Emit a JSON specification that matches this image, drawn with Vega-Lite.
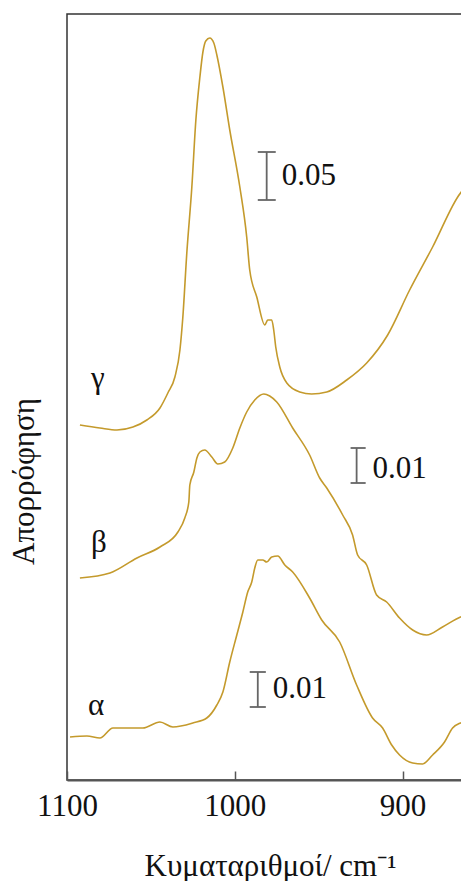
{
  "$schema": "https://vega.github.io/schema/vega-lite/v6.json",
  "width": 396,
  "height": 766,
  "autosize": {"type": "none"},
  "padding": {"left": 67, "top": 14, "right": 0, "bottom": 101},
  "background": "white",
  "config": {
    "view": {"stroke": "#333333", "strokeWidth": 1.5},
    "font": "Liberation Serif"
  },
  "datasets": {
    "spectra": [
      {"series": "γ", "wn": 1092.3, "A": 355},
      {"series": "γ", "wn": 1080.4, "A": 352},
      {"series": "γ", "wn": 1070.2, "A": 350},
      {"series": "γ", "wn": 1060.7, "A": 353},
      {"series": "γ", "wn": 1052.4, "A": 360},
      {"series": "γ", "wn": 1044.6, "A": 372},
      {"series": "γ", "wn": 1039.9, "A": 387},
      {"series": "γ", "wn": 1035.7, "A": 403},
      {"series": "γ", "wn": 1032.7, "A": 430},
      {"series": "γ", "wn": 1031.0, "A": 462},
      {"series": "γ", "wn": 1028.6, "A": 527},
      {"series": "γ", "wn": 1025.6, "A": 593},
      {"series": "γ", "wn": 1023.2, "A": 660},
      {"series": "γ", "wn": 1020.8, "A": 703},
      {"series": "γ", "wn": 1019.0, "A": 728},
      {"series": "γ", "wn": 1017.3, "A": 739},
      {"series": "γ", "wn": 1014.9, "A": 742},
      {"series": "γ", "wn": 1012.5, "A": 737},
      {"series": "γ", "wn": 1010.7, "A": 725},
      {"series": "γ", "wn": 1007.1, "A": 693},
      {"series": "γ", "wn": 1003.0, "A": 650},
      {"series": "γ", "wn": 997.0, "A": 593},
      {"series": "γ", "wn": 992.9, "A": 543},
      {"series": "γ", "wn": 991.1, "A": 510},
      {"series": "γ", "wn": 986.9, "A": 483},
      {"series": "γ", "wn": 982.1, "A": 455},
      {"series": "γ", "wn": 980.4, "A": 460},
      {"series": "γ", "wn": 978.0, "A": 460},
      {"series": "γ", "wn": 976.8, "A": 450},
      {"series": "γ", "wn": 975.6, "A": 433},
      {"series": "γ", "wn": 973.2, "A": 413},
      {"series": "γ", "wn": 969.0, "A": 397},
      {"series": "γ", "wn": 961.3, "A": 388},
      {"series": "γ", "wn": 954.2, "A": 386},
      {"series": "γ", "wn": 945.2, "A": 388},
      {"series": "γ", "wn": 933.3, "A": 400},
      {"series": "γ", "wn": 921.4, "A": 417},
      {"series": "γ", "wn": 908.9, "A": 445},
      {"series": "γ", "wn": 895.8, "A": 490},
      {"series": "γ", "wn": 882.1, "A": 533},
      {"series": "γ", "wn": 865.5, "A": 587},
      {"series": "γ", "wn": 864.0, "A": 590},
      {"series": "β", "wn": 1092.3, "A": 202},
      {"series": "β", "wn": 1074.4, "A": 207},
      {"series": "β", "wn": 1058.3, "A": 222},
      {"series": "β", "wn": 1044.6, "A": 233},
      {"series": "β", "wn": 1033.9, "A": 248},
      {"series": "β", "wn": 1029.8, "A": 262},
      {"series": "β", "wn": 1027.4, "A": 278},
      {"series": "β", "wn": 1026.8, "A": 295},
      {"series": "β", "wn": 1024.4, "A": 308},
      {"series": "β", "wn": 1022.6, "A": 322},
      {"series": "β", "wn": 1020.8, "A": 328},
      {"series": "β", "wn": 1017.9, "A": 330},
      {"series": "β", "wn": 1013.7, "A": 323},
      {"series": "β", "wn": 1010.1, "A": 316},
      {"series": "β", "wn": 1006.0, "A": 318},
      {"series": "β", "wn": 1001.2, "A": 332},
      {"series": "β", "wn": 997.0, "A": 352},
      {"series": "β", "wn": 992.9, "A": 368},
      {"series": "β", "wn": 988.1, "A": 380},
      {"series": "β", "wn": 982.7, "A": 386},
      {"series": "β", "wn": 979.2, "A": 384},
      {"series": "β", "wn": 975.0, "A": 378},
      {"series": "β", "wn": 965.5, "A": 352},
      {"series": "β", "wn": 955.4, "A": 325},
      {"series": "β", "wn": 949.4, "A": 302},
      {"series": "β", "wn": 945.2, "A": 292},
      {"series": "β", "wn": 935.7, "A": 265},
      {"series": "β", "wn": 929.8, "A": 245},
      {"series": "β", "wn": 926.8, "A": 225},
      {"series": "β", "wn": 921.4, "A": 215},
      {"series": "β", "wn": 915.5, "A": 185},
      {"series": "β", "wn": 909.5, "A": 178},
      {"series": "β", "wn": 901.8, "A": 162},
      {"series": "β", "wn": 894.0, "A": 150},
      {"series": "β", "wn": 885.7, "A": 145},
      {"series": "β", "wn": 876.2, "A": 153},
      {"series": "β", "wn": 865.5, "A": 163},
      {"series": "β", "wn": 864.0, "A": 164},
      {"series": "α", "wn": 1098.2, "A": 43},
      {"series": "α", "wn": 1088.1, "A": 44},
      {"series": "α", "wn": 1080.4, "A": 42},
      {"series": "α", "wn": 1072.6, "A": 52},
      {"series": "α", "wn": 1064.3, "A": 52},
      {"series": "α", "wn": 1054.8, "A": 52},
      {"series": "α", "wn": 1044.6, "A": 58},
      {"series": "α", "wn": 1036.9, "A": 53},
      {"series": "α", "wn": 1025.0, "A": 57},
      {"series": "α", "wn": 1016.7, "A": 62},
      {"series": "α", "wn": 1010.7, "A": 75},
      {"series": "α", "wn": 1007.1, "A": 88},
      {"series": "α", "wn": 1003.0, "A": 118},
      {"series": "α", "wn": 998.8, "A": 145},
      {"series": "α", "wn": 995.2, "A": 168},
      {"series": "α", "wn": 992.3, "A": 188},
      {"series": "α", "wn": 989.9, "A": 198},
      {"series": "α", "wn": 988.1, "A": 212},
      {"series": "α", "wn": 986.3, "A": 220},
      {"series": "α", "wn": 983.3, "A": 220},
      {"series": "α", "wn": 981.0, "A": 218},
      {"series": "α", "wn": 978.0, "A": 223},
      {"series": "α", "wn": 974.4, "A": 224},
      {"series": "α", "wn": 970.2, "A": 215},
      {"series": "α", "wn": 965.5, "A": 208},
      {"series": "α", "wn": 955.4, "A": 182},
      {"series": "α", "wn": 948.2, "A": 160},
      {"series": "α", "wn": 937.5, "A": 138},
      {"series": "α", "wn": 927.4, "A": 95},
      {"series": "α", "wn": 917.9, "A": 62},
      {"series": "α", "wn": 911.9, "A": 52},
      {"series": "α", "wn": 906.5, "A": 35},
      {"series": "α", "wn": 901.8, "A": 25},
      {"series": "α", "wn": 894.0, "A": 17},
      {"series": "α", "wn": 888.1, "A": 16},
      {"series": "α", "wn": 882.1, "A": 25},
      {"series": "α", "wn": 875.0, "A": 38},
      {"series": "α", "wn": 870.2, "A": 52},
      {"series": "α", "wn": 865.5, "A": 57},
      {"series": "α", "wn": 864.0, "A": 58}
    ],
    "bars": [
      {"wn": 981.0, "A1": 580, "A2": 628},
      {"wn": 927.4, "A1": 297, "A2": 332},
      {"wn": 986.3, "A1": 73, "A2": 108}
    ],
    "caps": [
      {"wl": 986.3, "wr": 975.6, "A": 628},
      {"wl": 986.3, "wr": 975.6, "A": 580},
      {"wl": 931.0, "wr": 922.0, "A": 332},
      {"wl": 931.0, "wr": 922.0, "A": 297},
      {"wl": 991.1, "wr": 981.5, "A": 108},
      {"wl": 991.1, "wr": 981.5, "A": 73}
    ],
    "labels": [
      {"wn": 972.0, "A": 595, "text": "0.05"},
      {"wn": 917.9, "A": 302, "text": "0.01"},
      {"wn": 977.4, "A": 82, "text": "0.01"},
      {"wn": 1085.7, "A": 392, "text": "γ"},
      {"wn": 1085.7, "A": 228, "text": "β"},
      {"wn": 1087.5, "A": 65, "text": "α"}
    ]
  },
  "layer": [
    {
      "data": {"name": "spectra"},
      "mark": {"type": "line", "color": "#C49A2C", "strokeWidth": 1.6, "clip": true, "interpolate": "monotone"},
      "encoding": {
        "x": {
          "field": "wn", "type": "quantitative",
          "scale": {"domain": [1100, 864], "nice": false, "zero": false},
          "axis": {
            "values": [1100, 1000, 900],
            "format": "d",
            "title": "Κυματαριθμοί/ cm⁻¹",
            "grid": false,
            "domainColor": "#555555",
            "domainWidth": 2,
            "tickColor": "#555555",
            "tickWidth": 1.5,
            "tickSize": -9,
            "labelFont": "Liberation Serif",
            "labelFontSize": 31,
            "labelColor": "#111111",
            "labelBaseline": "alphabetic",
            "labelPadding": 44,
            "labelFlush": false,
            "titleFont": "Liberation Serif",
            "titleFontSize": 31,
            "titleFontWeight": "normal",
            "titleColor": "#111111",
            "titleBaseline": "alphabetic",
            "titleY": 95,
            "titleX": 203,
            "titleAlign": "center"
          }
        },
        "y": {
          "field": "A", "type": "quantitative",
          "scale": {"domain": [0, 766], "nice": false, "zero": false},
          "axis": {
            "title": "Απορρόφηση",
            "domain": false,
            "ticks": false,
            "labels": false,
            "grid": false,
            "titleFont": "Liberation Serif",
            "titleFontSize": 31,
            "titleFontWeight": "normal",
            "titleColor": "#111111",
            "titleAngle": -90,
            "titleBaseline": "alphabetic",
            "titleAlign": "center",
            "titleX": -34,
            "titleY": 467
          }
        },
        "detail": {"field": "series", "type": "nominal"}
      }
    },
    {
      "data": {"name": "bars"},
      "mark": {"type": "rule", "color": "#666666", "strokeWidth": 1.8},
      "encoding": {
        "x": {"field": "wn", "type": "quantitative"},
        "y": {"field": "A1", "type": "quantitative"},
        "y2": {"field": "A2"}
      }
    },
    {
      "data": {"name": "caps"},
      "mark": {"type": "rule", "color": "#666666", "strokeWidth": 1.8},
      "encoding": {
        "x": {"field": "wl", "type": "quantitative"},
        "x2": {"field": "wr"},
        "y": {"field": "A", "type": "quantitative"}
      }
    },
    {
      "data": {"name": "labels"},
      "mark": {"type": "text", "font": "Liberation Serif", "fontSize": 31, "align": "left", "baseline": "alphabetic", "color": "#111111"},
      "encoding": {
        "x": {"field": "wn", "type": "quantitative"},
        "y": {"field": "A", "type": "quantitative"},
        "text": {"field": "text", "type": "nominal"}
      }
    }
  ]
}
